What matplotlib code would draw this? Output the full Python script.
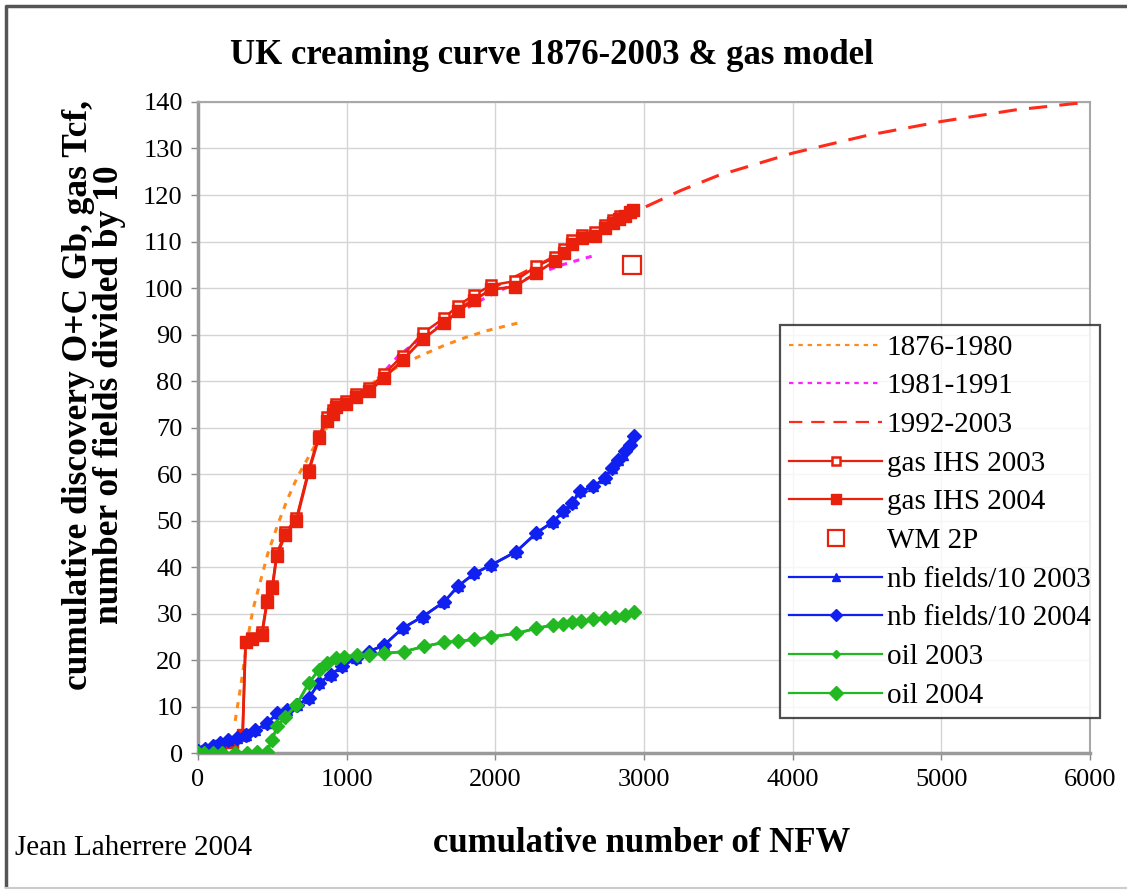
import matplotlib
matplotlib.use('Agg')
import matplotlib.pyplot as plt
from matplotlib.lines import Line2D

plt.rcParams['font.family'] = ['Liberation Serif', 'DejaVu Serif']

# model curves (cumulative NFW, Tcf)
model_1876_1980_x = [250, 290, 330, 370, 420, 470, 540, 600, 670, 740, 800, 900, 1000, 1100,
                     1200, 1300, 1400, 1500, 1650, 1800, 1950, 2100, 2170]
model_1876_1980_y = [7, 15, 24, 31, 37, 43, 49.5, 54.5, 59.5, 63.5, 67, 71.5, 75, 77.8,
                     80.2, 82.3, 84, 85.5, 87.6, 89.4, 90.9, 92.1, 92.6]

model_1981_1991_x = [1150, 1250, 1350, 1450, 1550, 1700, 1850, 2000, 2150, 2300, 2450, 2600, 2690]
model_1981_1991_y = [78.5, 82, 85.5, 88, 90.3, 93.5, 96.5, 99, 101.2, 103.2, 105, 106.4, 107.2]

model_1992_2003_x = [1750, 2000, 2250, 2500, 2750, 3000, 3250, 3500, 4000, 4500, 5000, 5500, 6000]
model_1992_2003_y = [95.5, 100.3, 104.3, 108.5, 113, 117.3, 121, 124.2, 129, 132.8, 135.8, 138.3, 140]

# gas discoveries
gas_2003_x = [0, 60, 150, 230, 300, 320, 360, 430, 465, 500, 530, 588, 662, 745, 813, 870, 905,
              930, 993, 1061, 1151, 1252, 1376, 1511, 1657, 1748, 1860, 1973, 2130, 2277, 2401,
              2460, 2514, 2581, 2671, 2739, 2790, 2840]
gas_2003_y = [0, 0.5, 1.5, 2.5, 4, 24, 24.8, 26, 33, 36, 43, 47.5, 50.5, 61, 68.3, 72.2, 73.8,
              75.2, 75.8, 77.2, 78.5, 81.5, 85.5, 90.3, 93.6, 96.2, 98.6, 100.6, 101.5, 104.7,
              106.6, 108.4, 110.3, 111.4, 112, 113.5, 114.6, 115.5]

gas_2004_x = [0, 60, 150, 230, 300, 320, 360, 430, 465, 500, 530, 588, 662, 745, 813, 870, 905,
              930, 993, 1061, 1151, 1252, 1376, 1511, 1657, 1748, 1860, 1973, 2130, 2277, 2401,
              2460, 2514, 2581, 2671, 2739, 2790, 2830, 2870, 2905, 2925]
gas_2004_y = [0, 0.5, 1.5, 2.5, 4, 24, 24.5, 25.5, 32.5, 35.5, 42.5, 47, 50, 60.5, 67.8, 71.5,
              73, 74.5, 75, 76.5, 77.8, 80.7, 84.5, 89, 92.5, 95, 97.5, 99.7, 100.3, 103.3,
              105.8, 107.5, 109.4, 110.8, 111.3, 112.9, 114, 114.8, 115.6, 116.3, 116.8]

wm_2p_x = [2919]
wm_2p_y = [105]

# number of fields / 10
fields_2003_x = [0, 50, 100, 149, 200, 261, 320, 385, 464, 532, 599, 667, 745, 813, 892, 971,
                 1061, 1151, 1252, 1376, 1511, 1657, 1748, 1860, 1973, 2142, 2277, 2389, 2457,
                 2514, 2570, 2660, 2739, 2784, 2829, 2860]
fields_2003_y = [0.5, 1, 1.6, 2.2, 2.8, 3.3, 4, 5, 6.5, 8.6, 9.4, 10.4, 11.9, 15.1, 16.9, 18.7,
                 20.5, 21.9, 23.3, 26.9, 29.4, 32.6, 35.9, 38.7, 40.5, 43.4, 47.4, 49.8, 52,
                 53.8, 56.3, 57.4, 59.2, 61.3, 63.1, 64.2]

fields_2004_x = [0, 50, 100, 149, 200, 261, 320, 385, 464, 532, 599, 667, 745, 813, 892, 971,
                 1061, 1151, 1252, 1376, 1511, 1657, 1748, 1860, 1973, 2142, 2277, 2389, 2457,
                 2514, 2570, 2660, 2739, 2784, 2829, 2874, 2908, 2930]
fields_2004_y = [0.5, 1, 1.6, 2.2, 2.8, 3.3, 4, 5, 6.5, 8.6, 9.4, 10.4, 11.9, 15.1, 16.9, 18.7,
                 20.5, 21.9, 23.3, 26.9, 29.4, 32.6, 35.9, 38.7, 40.5, 43.4, 47.4, 49.8, 52,
                 53.8, 56.3, 57.4, 59.2, 61.3, 63.1, 64.9, 66.3, 68.3]

# oil discoveries
oil_2003_x = [0, 40, 100, 160, 250, 330, 400, 464, 498, 532, 588, 662, 745, 813, 870, 926, 982,
              1072, 1151, 1252, 1387, 1522, 1657, 1748, 1860, 1973, 2142, 2277, 2389, 2457,
              2514, 2580, 2660, 2739, 2806, 2860]
oil_2003_y = [0, 0, 0, 0, 0.1, 0.2, 0.3, 0.4, 2.9, 5.8, 7.9, 10.4, 15.1, 18, 19.4, 20.5, 20.8,
              21.1, 21.2, 21.5, 21.9, 23, 23.9, 24.1, 24.5, 25.1, 25.8, 26.9, 27.6, 27.9,
              28.3, 28.4, 28.8, 29.1, 29.3, 29.6]

oil_2004_x = [0, 40, 100, 160, 250, 330, 400, 464, 498, 532, 588, 662, 745, 813, 870, 926, 982,
              1072, 1151, 1252, 1387, 1522, 1657, 1748, 1860, 1973, 2142, 2277, 2389, 2457,
              2514, 2580, 2660, 2739, 2806, 2874, 2930]
oil_2004_y = [0, 0, 0, 0, 0.1, 0.2, 0.3, 0.4, 2.9, 5.8, 7.9, 10.4, 15.1, 18, 19.4, 20.5, 20.8,
              21.1, 21.2, 21.5, 21.9, 23, 23.9, 24.1, 24.5, 25.1, 25.8, 26.9, 27.6, 27.9,
              28.3, 28.4, 28.8, 29.1, 29.3, 29.8, 30.5]

x_ticks = [0, 1000, 2000, 3000, 4000, 5000, 6000]
y_ticks = list(range(0, 141, 10))

RED = '#e8200c'
BLUE = '#1020f0'
GREEN = '#22b822'

fig = plt.figure(figsize=(11.27, 8.92), dpi=100)
ax = fig.add_axes([0.1757, 0.1553, 0.7913, 0.7304])

ax.plot(model_1876_1980_x, model_1876_1980_y, color='#ff8a1c', lw=2.2, ls=(0, (2, 2.2)),
        label='1876-1980', zorder=3)
ax.plot(model_1981_1991_x, model_1981_1991_y, color='#ff22ff', lw=2.2, ls=(0, (2, 2.2)),
        label='1981-1991', zorder=3)
ax.plot(model_1992_2003_x, model_1992_2003_y, color='#ff2a1a', lw=2.2, ls=(0, (6, 4)),
        label='1992-2003', zorder=3)
ax.plot(gas_2003_x, gas_2003_y, color=RED, lw=1.8, marker='s', ms=7, mfc='white', mec=RED,
        mew=1.8, label='gas IHS 2003', zorder=4)
ax.plot(gas_2004_x, gas_2004_y, color=RED, lw=2, marker='s', ms=8, mfc=RED, mec=RED,
        label='gas IHS 2004', zorder=4)
ax.plot(wm_2p_x, wm_2p_y, ls='none', marker='s', ms=13, mfc='white', mec=RED, mew=1.6,
        label='WM 2P', zorder=4)
ax.plot(fields_2003_x, fields_2003_y, color=BLUE, lw=1.8, marker='^', ms=7, mfc=BLUE, mec=BLUE,
        label='nb fields/10 2003', zorder=4)
ax.plot(fields_2004_x, fields_2004_y, color=BLUE, lw=2, marker='D', ms=7, mfc=BLUE, mec=BLUE,
        label='nb fields/10 2004', zorder=4)
ax.plot(oil_2003_x, oil_2003_y, color=GREEN, lw=1.8, marker='D', ms=5, mfc=GREEN, mec=GREEN,
        label='oil 2003', zorder=5)
ax.plot(oil_2004_x, oil_2004_y, color=GREEN, lw=2, marker='D', ms=7.5, mfc=GREEN, mec=GREEN,
        label='oil 2004', zorder=5)

ax.set_xlim(0, 6000)
ax.set_ylim(0, 140)
ax.set_xticks(x_ticks)
ax.set_yticks(y_ticks)
ax.tick_params(labelsize=19, length=5, width=1, color='#888888', pad=6)
ax.grid(True, color='#d4d4d4', lw=1)
ax.set_axisbelow(True)
for side in ['left', 'bottom']:
    ax.spines[side].set_color('#9a9a9a')
    ax.spines[side].set_linewidth(2.5)
for side in ['top', 'right']:
    ax.spines[side].set_color('#a8a8a8')
    ax.spines[side].set_linewidth(1.5)

leg = ax.legend(loc='upper right', bbox_to_anchor=(1100 / 1127, 1 - 325 / 892),
                bbox_transform=fig.transFigure, fontsize=21, frameon=True, fancybox=False,
                handlelength=3.2, handletextpad=0.15, borderpad=0.32, labelspacing=0.42,
                borderaxespad=0, markerscale=0.9)
leg.get_frame().set_edgecolor('#222222')
leg.get_frame().set_linewidth(1.6)
leg.set_zorder(10)
for line in leg.get_lines():
    line.set_linewidth(1.6)

fig.text(0.49, 1 - 55 / 892, 'UK creaming curve 1876-2003 & gas model', ha='center',
         va='center', fontsize=25, fontweight='bold')
fig.text(642 / 1127, 1 - 843 / 892, 'cumulative number of NFW', ha='center', va='center',
         fontsize=25, fontweight='bold')
fig.text(94 / 1127, 1 - 395 / 892,
         'cumulative discovery O+C Gb, gas Tcf,\nnumber of fields divided by 10',
         ha='center', va='center', rotation=90, fontsize=25.5, fontweight='bold',
         linespacing=0.95)
fig.text(15 / 1127, 1 - 848 / 892, 'Jean Laherrere 2004', ha='left', va='center', fontsize=21)

# outer frame: dark top and left, light bottom
frame_kw = dict(transform=fig.transFigure, solid_capstyle='butt')
fig.add_artist(Line2D([5 / 1127, 1], [1 - 6 / 892, 1 - 6 / 892], color='#555555', lw=2.5, **frame_kw))
fig.add_artist(Line2D([6 / 1127, 6 / 1127], [1 - 5 / 892, 4 / 892], color='#555555', lw=2.5, **frame_kw))
fig.add_artist(Line2D([5 / 1127, 1], [4 / 892, 4 / 892], color='#cccccc', lw=1.5, **frame_kw))

fig.savefig('out.png', dpi=100)
